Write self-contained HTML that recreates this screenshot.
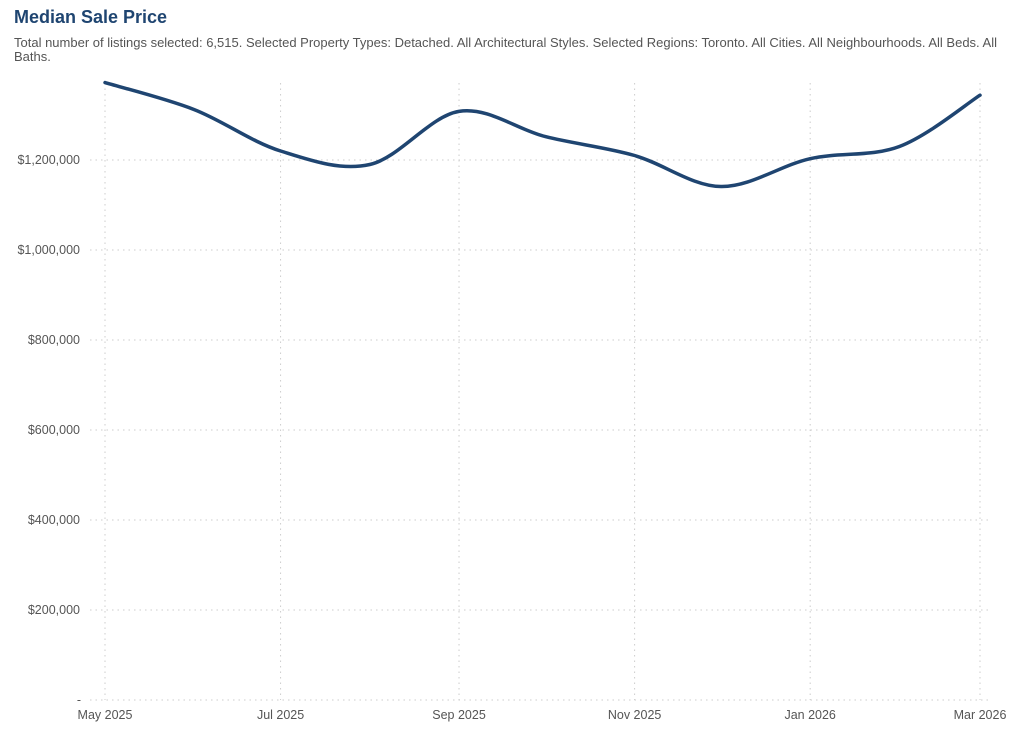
<!DOCTYPE html>
<html><head><meta charset="utf-8"><style>
body{margin:0;background:#fff;font-family:"Liberation Sans",Arial,sans-serif;}
#wrap{position:relative;width:1024px;height:730px;overflow:hidden;}
h1{position:absolute;left:14px;top:7px;margin:0;font-size:18px;font-weight:bold;color:#1f4571;}
#sub{position:absolute;left:14px;top:36px;width:995px;font-size:13px;line-height:14px;color:#555;}
svg{position:absolute;left:0;top:0;}
text{font-family:"Liberation Sans",Arial,sans-serif;font-size:12.5px;fill:#555;}
</style></head><body>
<div id="wrap">
<h1>Median Sale Price</h1>
<div id="sub">Total number of listings selected: 6,515. Selected Property Types: Detached. All Architectural Styles. Selected Regions: Toronto. All Cities. All Neighbourhoods. All Beds. All Baths.</div>
<svg id="chart" width="1024" height="730"></svg>
</div>
<script>
const months = ["May 2025","Jun 2025","Jul 2025","Aug 2025","Sep 2025","Oct 2025","Nov 2025","Dec 2025","Jan 2026","Feb 2026","Mar 2026"];
const monthDays = [0,31,61,92,123,153,184,214,245,276,304];
const prices = [1372000,1312000,1220000,1190000,1308000,1252000,1210000,1141000,1203000,1230000,1344000];
const yTicks = [0,200000,400000,600000,800000,1000000,1200000];
const yTickLabels = ["-","$200,000","$400,000","$600,000","$800,000","$1,000,000","$1,200,000"];
const xTickIdx = [0,2,4,6,8,10];

const NS="http://www.w3.org/2000/svg";
const svg=document.getElementById('chart');
const x0=105,x1=980,y0=700,pxPer=90/200000;
const maxDay=monthDays[monthDays.length-1];
const xs=i=>x0+(x1-x0)*monthDays[i]/maxDay;
const ys=v=>y0-v*pxPer;
function mk(t,a){const e=document.createElementNS(NS,t);for(const k in a)e.setAttribute(k,a[k]);svg.appendChild(e);return e;}
yTicks.forEach((v,i)=>{
  const l=mk('line',{x1:90,x2:990,y1:ys(v),y2:ys(v),stroke:'#ccc','stroke-dasharray':'1.5,4'});
  
  
  const t=mk('text',{x:i===0?81:80,y:ys(v)+4,'text-anchor':'end'});
  t.textContent=yTickLabels[i];
  
  
});
xTickIdx.forEach(i=>{
  const l=mk('line',{x1:xs(i),x2:xs(i),y1:83,y2:700,stroke:'#ccc','stroke-dasharray':'1.5,4'});
  
  
  const t=mk('text',{x:xs(i),y:719,'text-anchor':'middle'});
  t.textContent=months[i];
  
  
});
const P=prices.map((v,i)=>[xs(i),ys(v)]);
let d=`M${P[0][0]},${P[0][1]}`;
for(let i=0;i<P.length-1;i++){
  const p0=P[Math.max(0,i-1)],p1=P[i],p2=P[i+1],p3=P[Math.min(P.length-1,i+2)];
  const c1=[p1[0]+(p2[0]-p0[0])/6,p1[1]+(p2[1]-p0[1])/6];
  const c2=[p2[0]-(p3[0]-p1[0])/6,p2[1]-(p3[1]-p1[1])/6];
  d+=` C${c1[0]},${c1[1]} ${c2[0]},${c2[1]} ${p2[0]},${p2[1]}`;
}
const path=mk('path',{d:d,fill:'none',stroke:'#1f4571','stroke-width':3.5,'stroke-linecap':'round'});


</script>
</body></html>
